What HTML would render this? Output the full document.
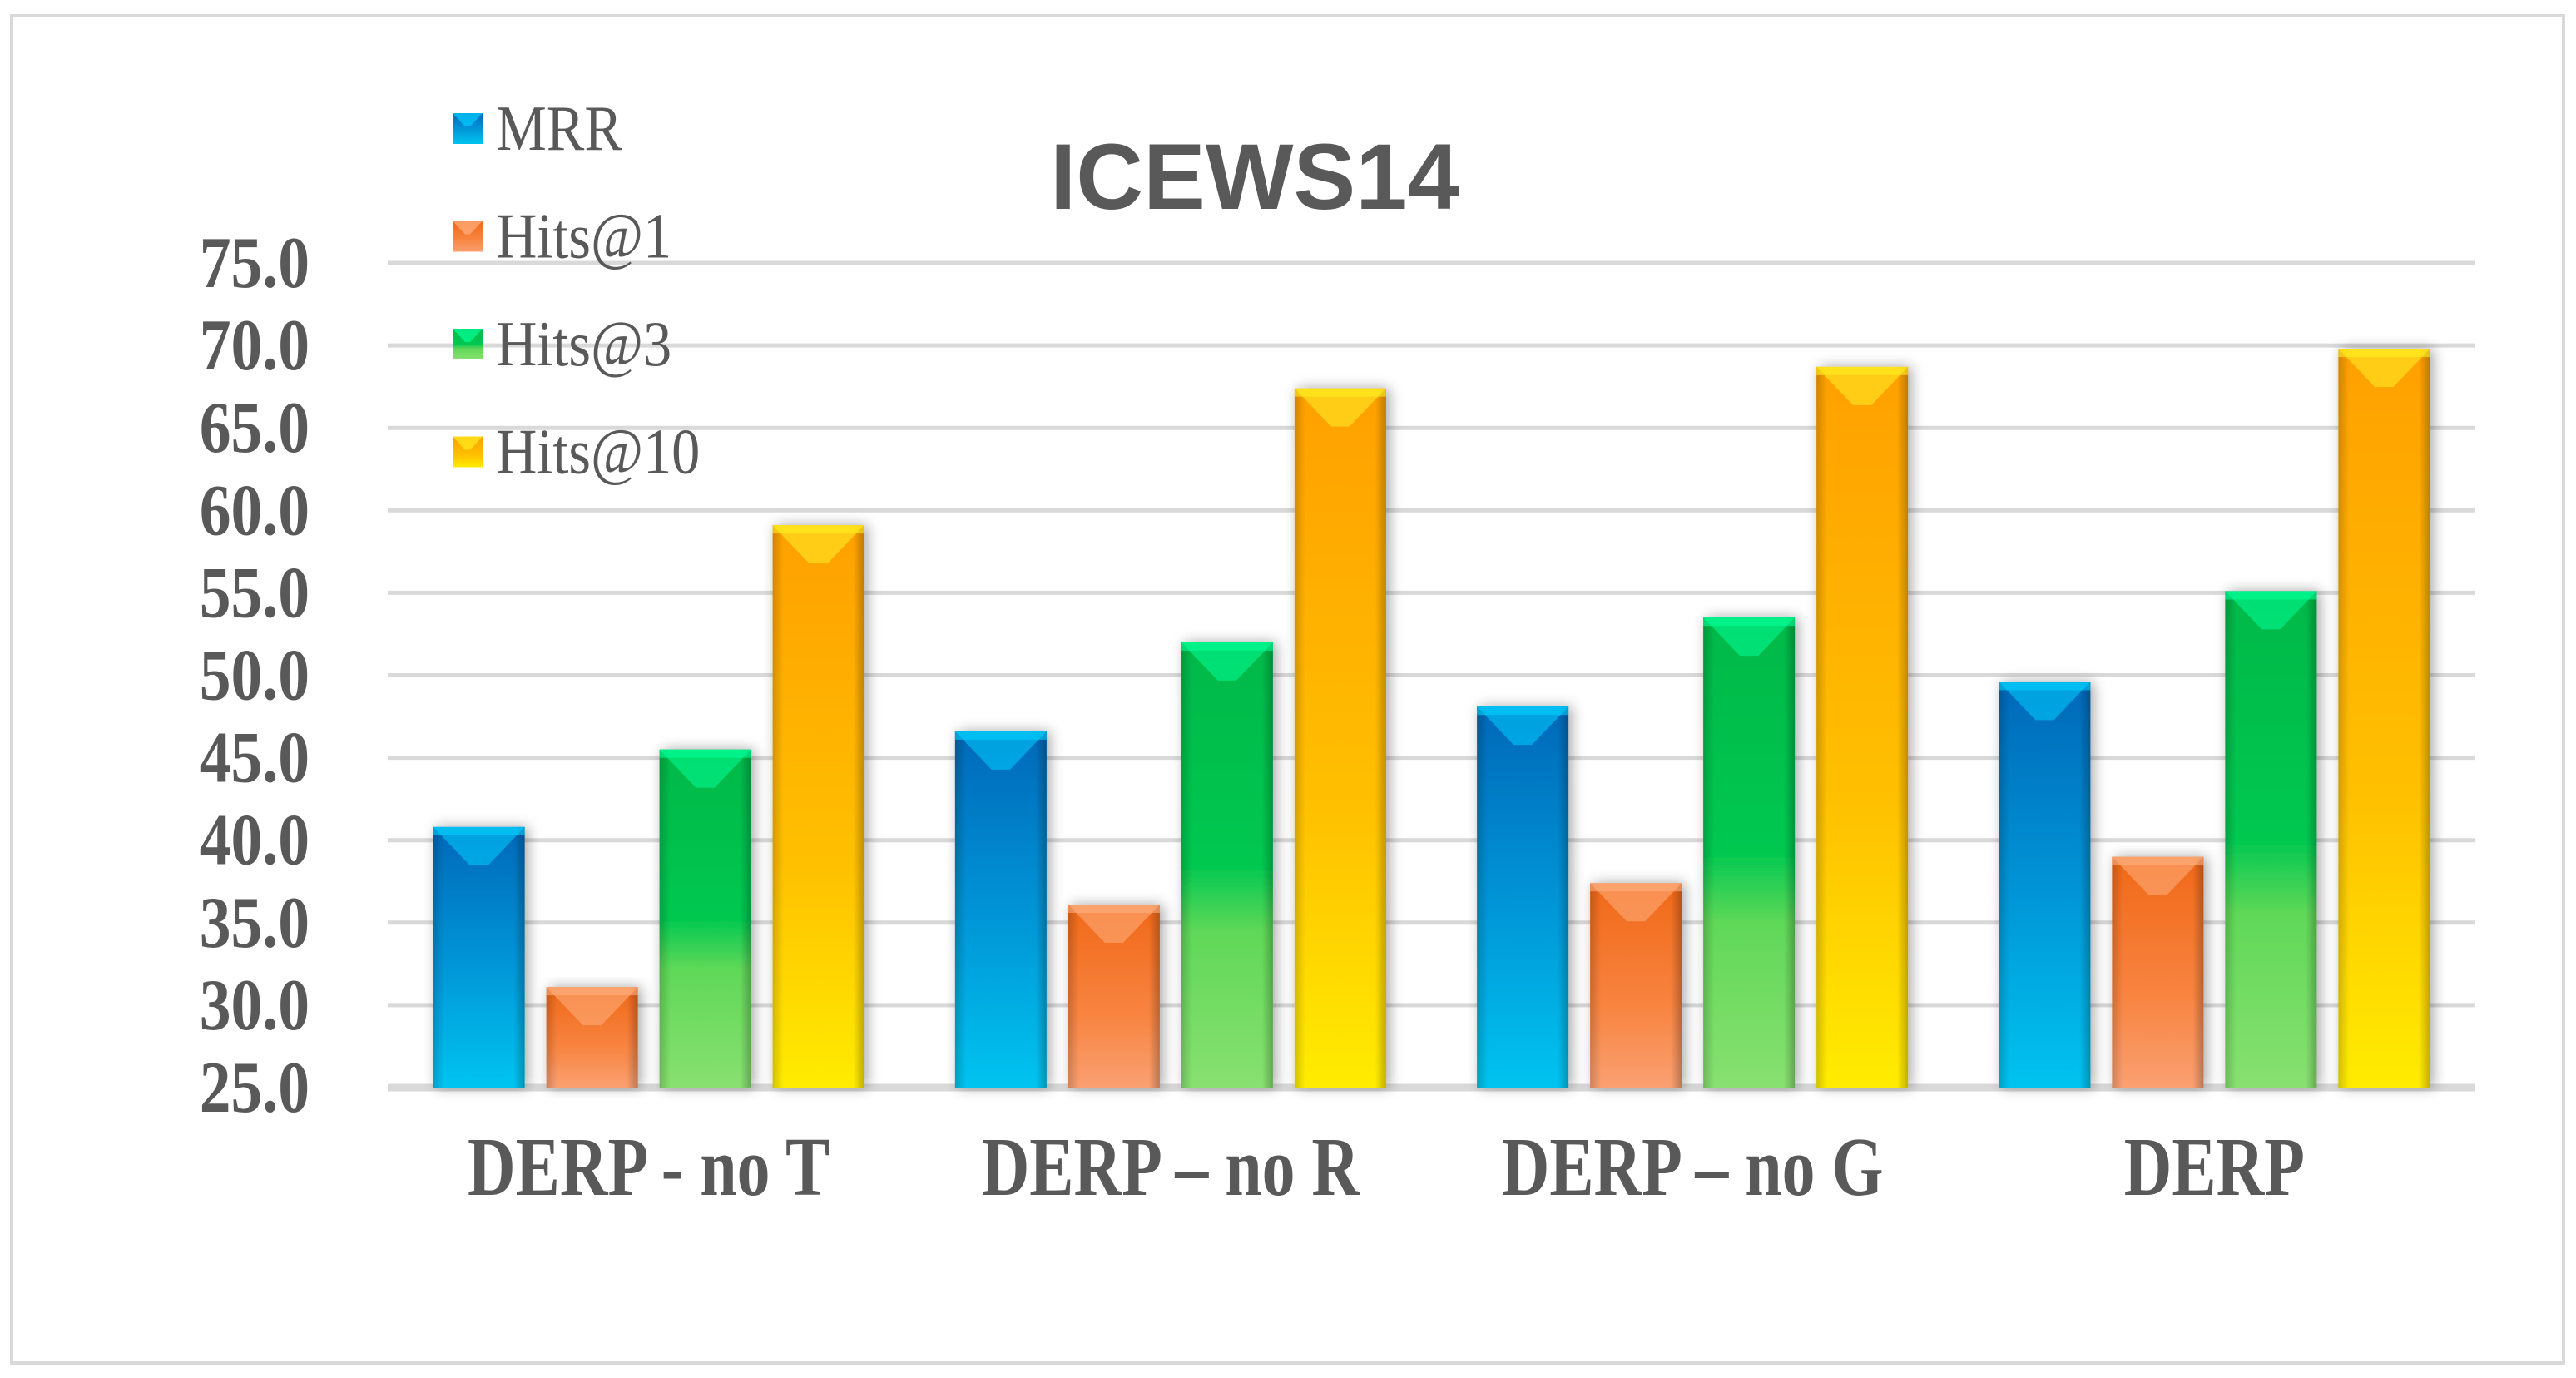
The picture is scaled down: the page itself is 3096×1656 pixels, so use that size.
<!DOCTYPE html>
<html><head><meta charset="utf-8"><style>
html,body{margin:0;padding:0;background:#fff;}
svg{display:block;}
</style></head><body>
<svg id="chart" width="3096" height="1656" viewBox="0 0 3096 1656" xmlns="http://www.w3.org/2000/svg">
<defs>
  <linearGradient id="g0" x1="0" y1="0" x2="0" y2="1"><stop offset="0" stop-color="#0068b8"/><stop offset="0.55" stop-color="#0098d8"/><stop offset="1" stop-color="#00c4f0"/></linearGradient>
  <linearGradient id="g1" x1="0" y1="0" x2="0" y2="1"><stop offset="0" stop-color="#f06818"/><stop offset="0.6" stop-color="#f88440"/><stop offset="1" stop-color="#faa072"/></linearGradient>
  <linearGradient id="g2" x1="0" y1="0" x2="0" y2="1"><stop offset="0" stop-color="#00b848"/><stop offset="0.5" stop-color="#00c850"/><stop offset="0.65" stop-color="#60d858"/><stop offset="1" stop-color="#88e070"/></linearGradient>
  <linearGradient id="g3" x1="0" y1="0" x2="0" y2="1"><stop offset="0" stop-color="#ffa000"/><stop offset="0.6" stop-color="#ffc000"/><stop offset="1" stop-color="#ffec00"/></linearGradient>
  <linearGradient id="side" x1="0" y1="0" x2="1" y2="0"><stop offset="0" stop-color="#000" stop-opacity="0.18"/><stop offset="0.12" stop-color="#000" stop-opacity="0"/><stop offset="0.88" stop-color="#000" stop-opacity="0"/><stop offset="1" stop-color="#000" stop-opacity="0.25"/></linearGradient>
  <filter id="sh" x="-30%" y="-10%" width="160%" height="120%"><feGaussianBlur in="SourceAlpha" stdDeviation="8"/><feOffset dx="4" dy="0"/><feComponentTransfer><feFuncA type="linear" slope="0.35"/></feComponentTransfer><feMerge><feMergeNode/><feMergeNode in="SourceGraphic"/></feMerge></filter>
</defs>
<rect x="14" y="19" width="3067" height="1619" fill="#fff" stroke="#d9d9d9" stroke-width="4"/>
<text x="1508" y="251" text-anchor="middle" font-family="Liberation Sans, sans-serif" font-weight="bold" font-size="112" fill="#595959">ICEWS14</text>
<g id="grid"></g>
<g id="bars"></g>
<g id="labels"></g>
<g id="legend"></g>
</svg>
<script>
const categories = ["DERP - no T", "DERP \u2013 no R", "DERP \u2013 no G", "DERP"];
const seriesNames = ["MRR", "Hits@1", "Hits@3", "Hits@10"];
const mrr = [40.8, 46.6, 48.1, 49.6];
const hits1 = [31.1, 36.1, 37.4, 39.0];
const hits3 = [45.5, 52.0, 53.5, 55.1];
const hits10 = [59.1, 67.4, 68.7, 69.8];
const yTicks = [25, 30, 35, 40, 45, 50, 55, 60, 65, 70, 75];

const NS = "http://www.w3.org/2000/svg";
const series = [mrr, hits1, hits3, hits10];
const grads = ["url(#g0)", "url(#g1)", "url(#g2)", "url(#g3)"];
const tops = ["#00d0ff", "#ffb080", "#00ff98", "#fff020"];
const plotL = 466, plotR = 2975, yBase = 1307, yMin = 25, yMax = 75, yTop = 316;
function y(v){ return yBase - (v - yMin) / (yMax - yMin) * (yBase - yTop); }
const catW = (plotR - plotL) / categories.length;
const barW = 110, barGap = 26;
function x(ci, si){ return plotL + ci * catW + (catW - (4 * barW + 3 * barGap)) / 2 + si * (barW + barGap); }
function mk(tag, attrs, parent){ const e = document.createElementNS(NS, tag); for (const k in attrs) e.setAttribute(k, attrs[k]); parent.appendChild(e); return e; }

const grid = document.getElementById('grid');
yTicks.forEach(t => {
  const ln = mk('line', {x1: plotL, x2: plotR, y1: y(t), y2: y(t), stroke: '#d9d9d9', 'stroke-width': t === yMin ? 9 : 5}, grid);
  
  
  const tx = mk('text', {transform: 'translate(372,' + (y(t) + 29) + ') scale(0.9,1.05)', 'text-anchor': 'end', 'font-family': 'Liberation Serif, serif', 'font-weight': 'bold', 'font-size': 84, fill: '#595959'}, grid);
  tx.textContent = t.toFixed(1);
  
  
});

const bars = document.getElementById('bars');
series.forEach((vals, si) => {
  vals.forEach((v, ci) => {
    const bx = x(ci, si), by = y(v), h = yBase - by;
    const g = mk('g', {filter: 'url(#sh)'}, bars);
    
    
    mk('rect', {x: bx, y: by, width: barW, height: h, fill: grads[si]}, g);
    mk('rect', {x: bx, y: by, width: barW, height: h, fill: 'url(#side)'}, g);
    const bh = Math.min(46, h / 2);
    mk('polygon', {points: bx + ',' + by + ' ' + (bx + barW) + ',' + by + ' ' + (bx + barW * 0.6) + ',' + (by + bh) + ' ' + (bx + barW * 0.4) + ',' + (by + bh), fill: tops[si], opacity: 0.55}, g);
    mk('rect', {x: bx, y: by, width: barW, height: 10, fill: tops[si], opacity: 0.6}, g);
  });
});

const labels = document.getElementById('labels');
categories.forEach((c, ci) => {
  const cx = plotL + ci * catW + catW / 2;
  const t = mk('text', {transform: 'translate(' + cx + ',1436) scale(0.79,1)', 'text-anchor': 'middle', 'font-family': 'Liberation Serif, serif', 'font-weight': 'bold', 'font-size': 101, fill: '#595959'}, labels);
  t.textContent = c;
  
  
});

const legend = document.getElementById('legend');
seriesNames.forEach((n, si) => {
  const ly = 136 + si * 129.5;
  const g = mk('g', {}, legend);
  
  
  mk('rect', {x: 544, y: ly, width: 36, height: 37, fill: grads[si]}, g);
  mk('polygon', {points: '544,' + ly + ' 580,' + ly + ' 565,' + (ly + 16) + ' 559,' + (ly + 16), fill: tops[si], opacity: 0.7}, g);
  const t = mk('text', {transform: 'translate(596,' + (ly + 44) + ') scale(0.95,1.08)', 'font-family': 'Liberation Serif, serif', 'font-size': 72, fill: '#595959'}, g);
  t.textContent = n;
});
</script>
</body></html>
